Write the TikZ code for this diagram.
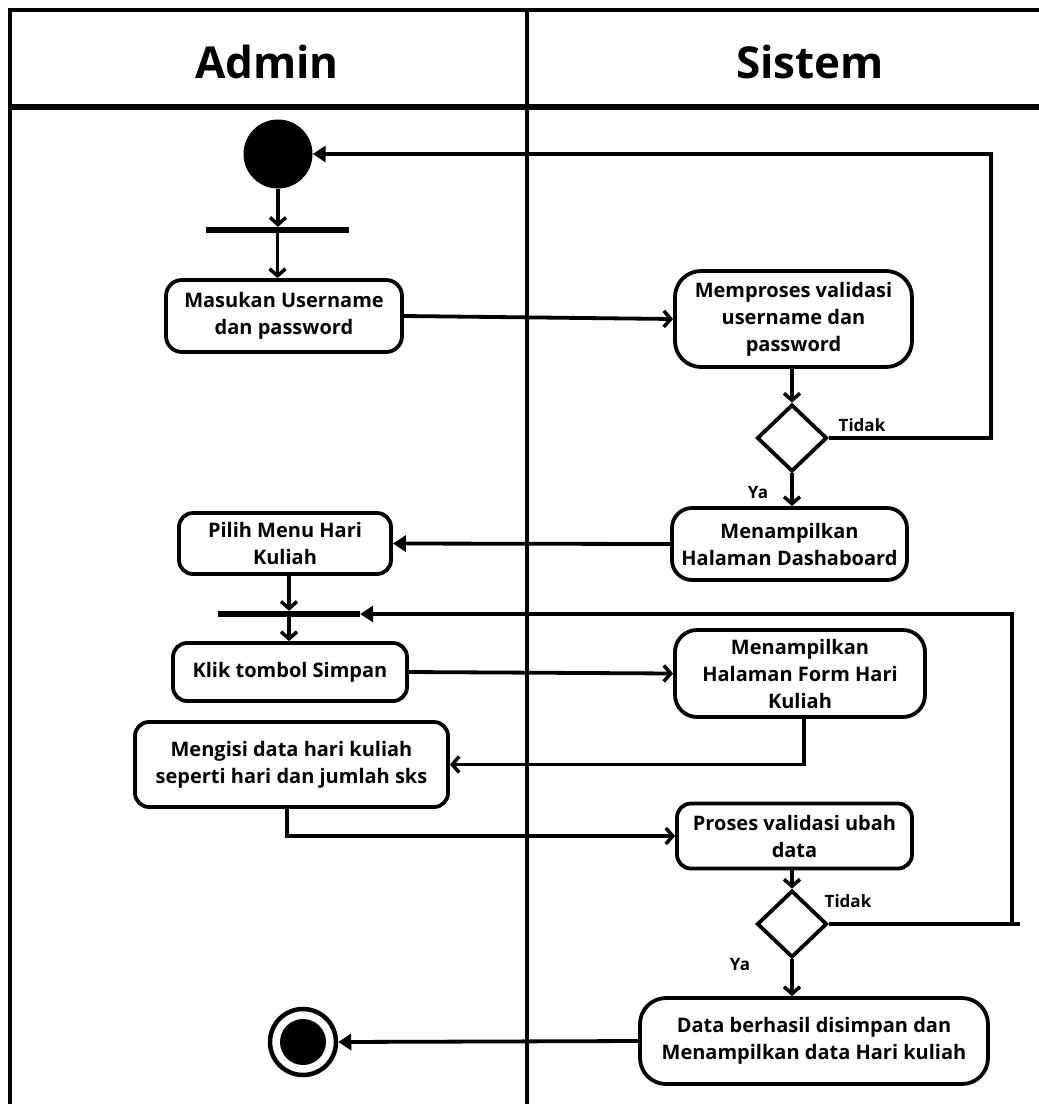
\documentclass[tikz,border=0pt]{standalone}
\usepackage{fontspec}
\setmainfont{Open Sans}[UprightFont=* Bold]
\usetikzlibrary{arrows.meta,shapes.geometric}
\tikzset{
  act/.style={draw, line width=3.8pt, rectangle, rounded corners=18pt, align=center, inner sep=0pt,
    font=\fontsize{20}{27}\selectfont},
  bar/.style={fill=black, rectangle, inner sep=0pt, minimum height=6pt},
  dec/.style={draw, diamond, line width=3.8pt, inner sep=0pt, minimum width=70pt, minimum height=67pt},
  flow/.style={line width=3.8pt, -{Straight Barb[length=7pt,width=16pt,line width=3.5pt]}},
  flowfill/.style={line width=3.8pt, -{Triangle[length=13pt,width=16pt]}},
  plain/.style={line width=3.8pt},
  lane/.style={line width=4pt},
  lbl/.style={font=\fontsize{17}{20}\selectfont, inner sep=0pt},
  head/.style={font=\fontsize{44}{50}\selectfont, inner sep=0pt}
}
\begin{document}
\begin{tikzpicture}[x=1pt,y=-1pt]
\useasboundingbox (0,0) rectangle (1039,1104);
% swimlane frame
\draw[lane] (10,1104) -- (10,10) -- (1039,10);
\draw[line width=5.5pt] (10,107) -- (1039,107);
\draw[lane] (527,10) -- (527,1104);
\node[head] (admin) at (267,62) {Admin};
\node[head] (sistem) at (810,62) {Sistem};

% nodes
\node[circle, fill=black, minimum size=69pt, inner sep=0pt] (start) at (278,154) {};
\node[bar, minimum width=143pt] (bar1) at (277.5,230) {};
\node[act, minimum width=236pt, minimum height=72pt, rounded corners=16pt] (masuk) at (284,316) {Masukan Username\\dan password};
\node[act, minimum width=237pt, minimum height=96pt, rounded corners=26pt] (proses1) at (793.5,319) {Memproses validasi\\username dan\\password};
\node[dec] (d1) at (792,438) {};
\node[act, minimum width=235pt, minimum height=72pt, rounded corners=20pt] (tampil) at (789.5,544) {Menampilkan\\Halaman Dashaboard};
\node[act, minimum width=212pt, minimum height=61pt, rounded corners=14pt] (pilih) at (285,543.5) {Pilih Menu Hari\\Kuliah};
\node[bar, minimum width=142pt] (bar2) at (289,614) {};
\node[act, minimum width=234pt, minimum height=58pt, rounded corners=14pt] (klik) at (290,672) {Klik tombol Simpan};
\node[act, minimum width=250pt, minimum height=87pt, rounded corners=22pt] (form) at (800,673.5) {Menampilkan\\Halaman Form Hari\\Kuliah};
\node[act, minimum width=313pt, minimum height=85pt, rounded corners=14pt] (mengisi) at (291.5,764.5) {Mengisi data hari kuliah\\seperti hari dan jumlah sks};
\node[act, minimum width=235pt, minimum height=65pt, rounded corners=14pt] (proses2) at (794.5,836) {Proses validasi ubah\\data};
\node[dec] (d2) at (792,924) {};
\node[act, minimum width=348pt, minimum height=86pt, rounded corners=26pt] (data) at (814,1041) {Data berhasil disimpan dan\\Menampilkan data Hari kuliah};
\node[circle, draw, line width=4.5pt, minimum size=66pt, inner sep=0pt] (end) at (303,1042) {};
\node[circle, fill=black, minimum size=46pt, inner sep=0pt] (endin) at (end.center) {};

% labels
\node[lbl] (t1) at (862,425) {Tidak};
\node[lbl] (y1) at (758,493) {Ya};
\node[lbl] (t2) at (848,901) {Tidak};
\node[lbl] (y2) at (740,965) {Ya};

% connectors
\coordinate (r1) at (991,438);
\coordinate (r2) at (1012,924);
\coordinate (r2e) at (1020,924);
\draw[flow] (start.south) -- (start.south |- bar1.north);
\draw[flow] (bar1.center) -- (bar1.center |- masuk.north);
\draw[flow] (masuk.east) -- (proses1.west);
\draw[flow] (d1.north |- proses1.south) -- (d1.north);
\draw[flowfill] (d1.east) -- (r1) |- (start.east);
\draw[flow] (d1.south) -- (d1.south |- tampil.north);
\draw[flowfill] (tampil.west) -- (pilih.east);
\draw[flow] (pilih.south -| bar2.center) -- (bar2.north);
\draw[flow] (bar2.center) -- (bar2.center |- klik.north);
\draw[flow] (klik.east) -- (form.west);
\draw[flow] ([xshift=4pt]form.south) |- (mengisi.east);
\draw[flow] ([xshift=-4.5pt]mengisi.south) |- (proses2.west);
\draw[flow] (d2.north |- proses2.south) -- (d2.north);
\draw[plain] (d2.east) -- (r2e);
\draw[flowfill] (r2) |- (bar2.east);
\draw[flow] (d2.south) -- (d2.south |- data.north);
\draw[flowfill] (data.west) -- (end.east);
\end{tikzpicture}
\end{document}
